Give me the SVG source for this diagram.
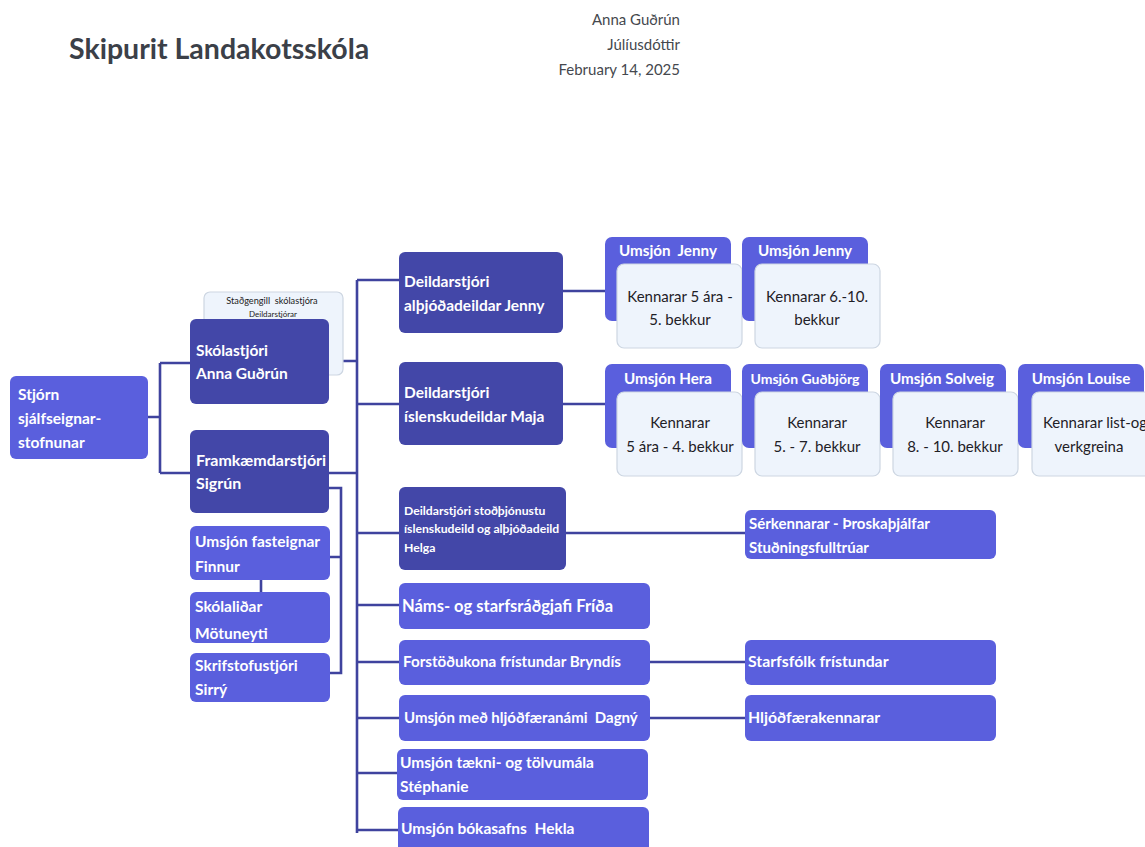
<svg xmlns="http://www.w3.org/2000/svg" width="1145" height="847" viewBox="0 0 1145 847">
<style>
.bg{fill:#ffffff}
.mid{fill:#5a5fdd}
.dark{fill:#4347a8}
.light{fill:#eef4fc;stroke:#cdd6e2;stroke-width:1.2}
.w{font-family:Lato,"Liberation Sans",sans-serif;font-weight:bold;fill:#ffffff;font-size:15.5px}
.k{font-family:Lato,"Liberation Sans",sans-serif;fill:#1e2026;font-size:15px;text-anchor:middle}
.tab{font-family:Lato,"Liberation Sans",sans-serif;font-weight:bold;fill:#ffffff;font-size:15.2px;text-anchor:middle}
.hdr{font-family:Lato,"Liberation Sans",sans-serif;fill:#45484e;font-size:15px;text-anchor:end}
.ln{fill:none;stroke:#3f439e;stroke-width:2.6}
</style>
<rect class="bg" x="0" y="0" width="1145" height="847"/>
<g id="header">
<text x="69" y="59" style="font-family:Lato,'Liberation Sans',sans-serif;font-weight:bold;font-size:28.5px;fill:#3b4048">Skipurit Landakotsskóla</text>
<text class="hdr" x="680" y="25">Anna Guðrún</text>
<text class="hdr" x="680" y="50">Júlíusdóttir</text>
<text class="hdr" x="680" y="75">February 14, 2025</text>
</g>
<g id="connectors">
<path class="ln" d="M148,417 H160 M160,363 V473 M160,363 H190 M160,473 H190"/>
<path class="ln" d="M329,361 H357 M329,473 H357"/>
<path class="ln" d="M357,280 V833"/>
<path class="ln" d="M357,280 H399 M357,404 H399 M357,533 H399 M357,605 H399 M357,662 H399 M357,718 H399 M357,773 H397 M357,830 H399"/>
<path class="ln" d="M563,291 H605 M563,404 H605 M565,533 H745 M650,662 H745 M650,718 H745"/>
<path class="ln" d="M329,488 H341 V673 H330 M330,557 H341"/>
<path class="ln" d="M261,580 V592"/>
</g>
<g id="stjorn">
<rect class="mid" x="10" y="376" width="138" height="83" rx="6"/>
<text class="w" x="18" y="400">Stjórn</text>
<text class="w" x="18" y="424">sjálfseignar-</text>
<text class="w" x="18" y="448">stofnunar</text>
</g>
<g id="stadgengill">
<rect class="light" x="204" y="292" width="139" height="83" rx="6"/>
<text x="272" y="304" xml:space="preserve" style="font-family:Lato,'Liberation Sans',sans-serif;font-size:9.2px;fill:#222;text-anchor:middle">Staðgengill  skólastjóra</text>
<text x="273" y="317" style="font-family:Lato,'Liberation Sans',sans-serif;font-size:8px;fill:#222;text-anchor:middle">Deildarstjórar</text>
</g>
<g id="skolastjori">
<rect class="dark" x="190" y="319" width="139" height="85" rx="6"/>
<text class="w" x="196" y="356">Skólastjóri</text>
<text class="w" x="196" y="379">Anna Guðrún</text>
</g>
<g id="framkvaemdarstjori">
<rect class="dark" x="190" y="430" width="139" height="83" rx="6"/>
<text class="w" x="196" y="466" style="font-size:16px">Framkæmdarstjóri</text>
<text class="w" x="196" y="489" style="font-size:16px">Sigrún</text>
</g>
<g id="fasteignar">
<rect class="mid" x="190" y="526" width="140" height="54" rx="6"/>
<text class="w" x="195" y="547">Umsjón fasteignar</text>
<text class="w" x="195" y="572">Finnur</text>
</g>
<g id="skolalidar">
<rect class="mid" x="190" y="592" width="140" height="51" rx="6"/>
<text class="w" x="195" y="612">Skólaliðar</text>
<text class="w" x="195" y="639">Mötuneyti</text>
</g>
<g id="skrifstofustjori">
<rect class="mid" x="190" y="653" width="140" height="49" rx="6"/>
<text class="w" x="195" y="671">Skrifstofustjóri</text>
<text class="w" x="195" y="695">Sirrý</text>
</g>
<g id="deild-jenny">
<rect class="dark" x="399" y="252" width="164" height="81" rx="6"/>
<text class="w" x="404" y="287">Deildarstjóri</text>
<text class="w" x="404" y="311">alþjóðadeildar Jenny</text>
</g>
<g id="deild-maja">
<rect class="dark" x="399" y="362" width="164" height="83" rx="6"/>
<text class="w" x="404" y="398">Deildarstjóri</text>
<text class="w" x="404" y="422">íslenskudeildar Maja</text>
</g>
<g id="deild-helga">
<rect class="dark" x="399" y="487" width="167" height="83" rx="6"/>
<text class="w" x="404" y="515" style="font-size:12.2px">Deildarstjóri stoðþjónustu</text>
<text class="w" x="404" y="533" style="font-size:12.2px">íslenskudeild og alþjóðadeild</text>
<text class="w" x="404" y="552" style="font-size:12.2px">Helga</text>
</g>
<g id="umsjon-jenny-1">
<rect class="mid" x="605" y="237" width="126" height="84" rx="7"/>
<text class="tab" x="668" y="256" xml:space="preserve">Umsjón  Jenny</text>
<rect class="light" x="617" y="264" width="125" height="84" rx="7"/>
<text class="k" x="680" y="302">Kennarar 5 ára -</text>
<text class="k" x="680" y="325">5. bekkur</text>
</g>
<g id="umsjon-jenny-2">
<rect class="mid" x="742" y="237" width="126" height="84" rx="7"/>
<text class="tab" x="805" y="256">Umsjón Jenny</text>
<rect class="light" x="755" y="264" width="125" height="84" rx="7"/>
<text class="k" x="817" y="302">Kennarar 6.-10.</text>
<text class="k" x="817" y="325">bekkur</text>
</g>
<g id="umsjon-hera">
<rect class="mid" x="605" y="364" width="126" height="84" rx="7"/>
<text class="tab" x="668" y="384">Umsjón Hera</text>
<rect class="light" x="617" y="392" width="125" height="84" rx="7"/>
<text class="k" x="680" y="428">Kennarar</text>
<text class="k" x="680" y="452">5 ára - 4. bekkur</text>
</g>
<g id="umsjon-gudbjorg">
<rect class="mid" x="742" y="364" width="126" height="84" rx="7"/>
<text class="tab" x="805" y="384" style="font-size:14px">Umsjón Guðbjörg</text>
<rect class="light" x="755" y="392" width="125" height="84" rx="7"/>
<text class="k" x="817" y="428">Kennarar</text>
<text class="k" x="817" y="452">5. - 7. bekkur</text>
</g>
<g id="umsjon-solveig">
<rect class="mid" x="880" y="364" width="126" height="84" rx="7"/>
<text class="tab" x="942" y="384">Umsjón Solveig</text>
<rect class="light" x="893" y="392" width="125" height="84" rx="7"/>
<text class="k" x="955" y="428">Kennarar</text>
<text class="k" x="955" y="452">8. - 10. bekkur</text>
</g>
<g id="umsjon-louise">
<rect class="mid" x="1018" y="364" width="126" height="84" rx="7"/>
<text class="tab" x="1081" y="384">Umsjón Louise</text>
<rect class="light" x="1032" y="392" width="125" height="84" rx="7"/>
<text class="k" x="1095" y="428">Kennarar list-og</text>
<text class="k" x="1089" y="452">verkgreina</text>
</g>
<g id="serkennarar">
<rect class="mid" x="745" y="510" width="251" height="49" rx="6"/>
<text class="w" x="749" y="529" style="font-size:15px">Sérkennarar - Þroskaþjálfar</text>
<text class="w" x="749" y="553" style="font-size:15px">Stuðningsfulltrúar</text>
</g>
<g id="nams">
<rect class="mid" x="399" y="583" width="251" height="46" rx="6"/>
<text class="w" x="402" y="612" style="font-size:16.5px">Náms- og starfsráðgjafi Fríða</text>
</g>
<g id="forstodukona">
<rect class="mid" x="399" y="640" width="251" height="45" rx="6"/>
<text class="w" x="403" y="667" style="font-size:15.2px">Forstöðukona frístundar Bryndís</text>
</g>
<g id="starfsfolk">
<rect class="mid" x="745" y="640" width="251" height="45" rx="6"/>
<text class="w" x="748" y="667" style="font-size:15.8px">Starfsfólk frístundar</text>
</g>
<g id="hljodfaeranam">
<rect class="mid" x="399" y="695" width="251" height="46" rx="6"/>
<text class="w" x="404" y="723" xml:space="preserve" style="font-size:15px">Umsjón með hljóðfæranámi  Dagný</text>
</g>
<g id="hljodfaerakennarar">
<rect class="mid" x="745" y="695" width="251" height="46" rx="6"/>
<text class="w" x="748" y="723" style="font-size:15.8px">Hljóðfærakennarar</text>
</g>
<g id="taekni">
<rect class="mid" x="397" y="749" width="251" height="51" rx="6"/>
<text class="w" x="400" y="768">Umsjón tækni- og tölvumála</text>
<text class="w" x="400" y="792">Stéphanie</text>
</g>
<g id="bokasafn">
<rect class="mid" x="398" y="807" width="251" height="48" rx="6"/>
<text class="w" x="401" y="834" xml:space="preserve">Umsjón bókasafns  Hekla</text>
</g>
</svg>
